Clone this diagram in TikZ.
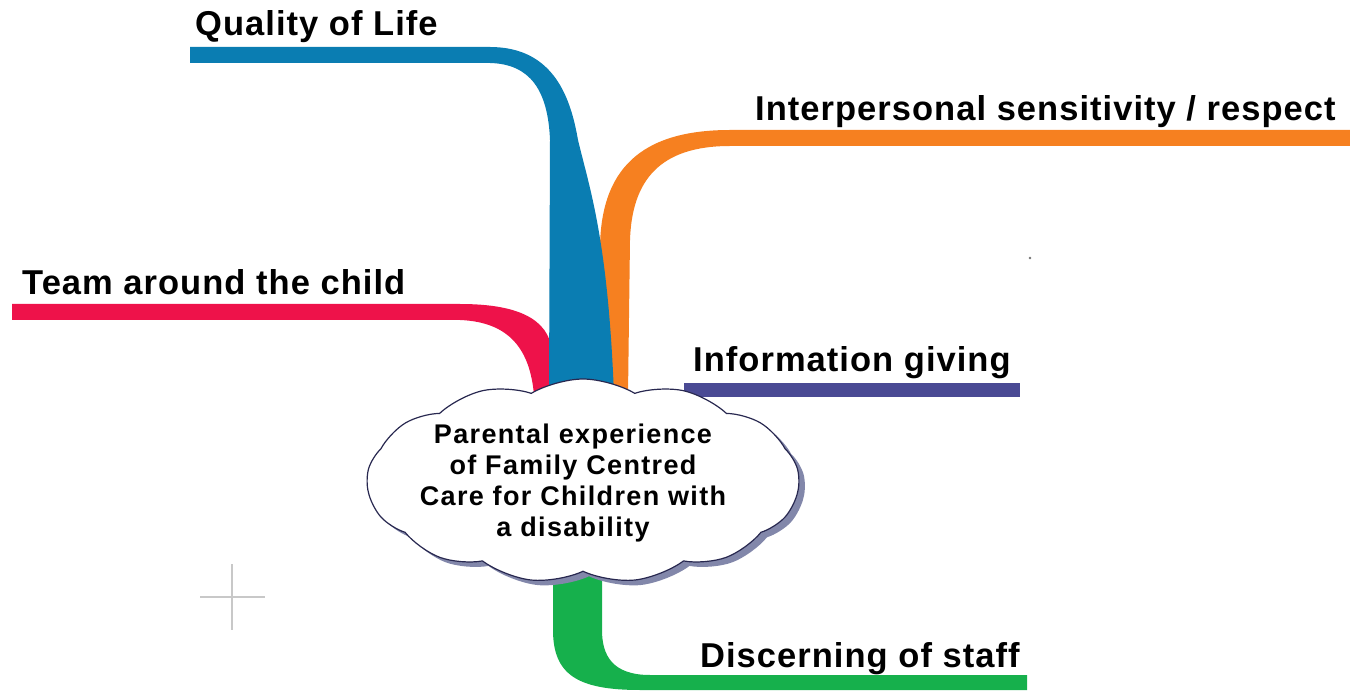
\documentclass[tikz,border=0pt]{standalone}
\usepackage{fontspec}
\setmainfont{Liberation Sans}
\newfontfamily\lblfont[LetterSpace=3]{Liberation Sans}
\newfontfamily\cloudfont[LetterSpace=5]{Liberation Sans}
\usetikzlibrary{shapes.symbols}
\definecolor{cblue}{RGB}{10,125,178}
\definecolor{corange}{RGB}{246,128,32}
\definecolor{cred}{RGB}{238,18,74}
\definecolor{cnavy}{RGB}{74,74,148}
\definecolor{cgreen}{RGB}{22,176,76}
\definecolor{cshadow}{RGB}{130,135,170}
\definecolor{cedge}{RGB}{40,40,80}
\definecolor{ccross}{RGB}{200,200,200}
\tikzset{
  lbl/.style={anchor=base west, inner sep=0pt, font=\lblfont\bfseries\fontsize{34.5}{40}\selectfont},
  cloudshape/.style={cloud, cloud puffs=13, cloud puff arc=62, minimum width=432pt, minimum height=204pt, inner sep=0pt},
  cloudtext/.style={inner sep=0pt, align=center, font=\cloudfont\bfseries\fontsize{27}{31.3}\selectfont}
}
\begin{document}
\begin{tikzpicture}[x=1pt,y=-1pt]
\useasboundingbox (0,0) rectangle (1350,692);
% labels
\node[lbl] (qol) at (195,36) {Quality of Life};
\node[lbl] (isr) at (755,121) {Interpersonal sensitivity / respect};
\node[lbl] (tac) at (22,295) {Team around the child};
\node[lbl] (ig) at (693,372) {Information giving};
\node[lbl] (dos) at (700,667) {Discerning of staff};
% strands
\fill[cred] (12,304) -- (460,304) .. controls (520,304) and (548,320) .. (552,350) -- (552,395) -- (534,395)
  .. controls (530,350) and (510,322) .. (460,320) -- (12,320) -- cycle;
\fill[corange] (1350,130) -- (730,130) .. controls (640,130) and (600,170) .. (600,250) -- (600,395) -- (628,395)
  -- (630,240) .. controls (632,180) and (660,146) .. (730,146) -- (1350,146) -- cycle;
\fill[cnavy] (684,383) rectangle (1020,397);
\fill[cgreen] (553,560) -- (553,630) .. controls (553,675) and (578,690) .. (640,690) -- (1027,690) -- (1027,675)
  -- (650,675) .. controls (612,675) and (602,655) .. (602,630) -- (602,560) -- cycle;
\fill[cblue] (190,47) -- (490,47) .. controls (555,47) and (571,100) .. (578,140)
  .. controls (590,190) and (608,240) .. (614,395) -- (549,395) -- (550,140)
  .. controls (548,90) and (530,64) .. (490,63) -- (190,63) -- cycle;
% cloud
\node[cloudshape, fill=cshadow] (cshad) at (589,486) {};
\node[cloudshape, fill=white, draw=cedge, line width=1.2pt] (cl) at (583,481) {};
\node[cloudtext] (ct) at (573,483) {Parental experience\\of Family Centred\\Care for Children with\\a disability};
% cross and speck
\draw[ccross, line width=1.2pt] (200,597) -- (265,597);
\draw[ccross, line width=1.2pt] (232,564) -- (232,630);
\fill[black!55] (1030,258) circle (1.3);
\end{tikzpicture}
\end{document}
